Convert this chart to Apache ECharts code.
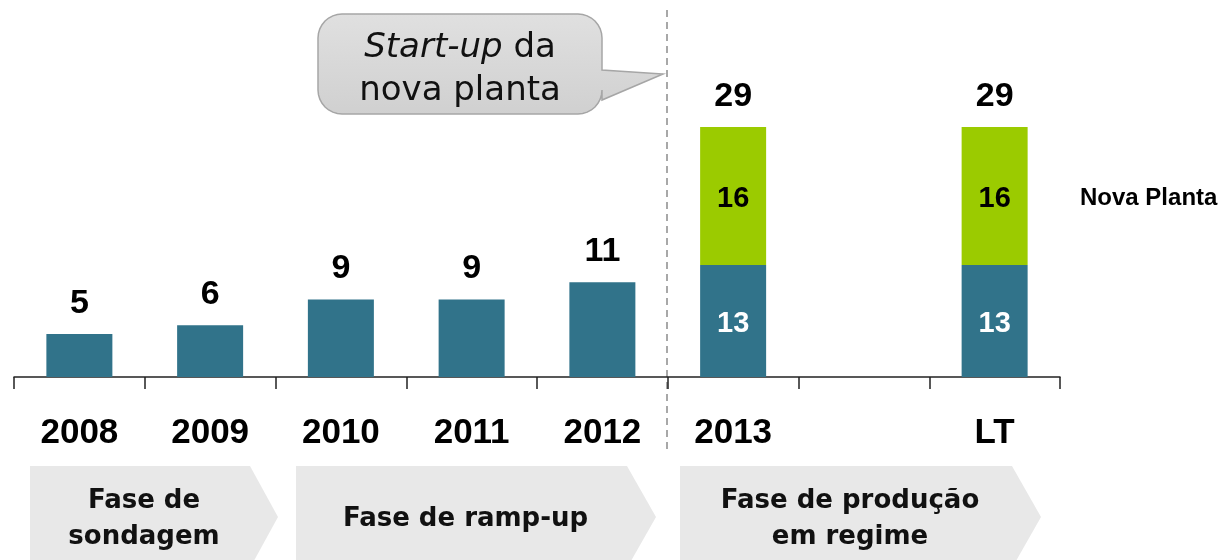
<!DOCTYPE html>
<html>
<head>
<meta charset="utf-8">
<script src="https://cdn.jsdelivr.net/npm/echarts@6/dist/echarts.min.js"></script>
<style>
  html, body { margin: 0; padding: 0; background: #fff; }
  #chart { width: 1220px; height: 560px; }
</style>
</head>
<body>
<div id="chart"></div>
<script>
// data
const categories = ["2008", "2009", "2010", "2011", "2012", "2013", "", "LT"];
const baseValues = [5, 6, 9, 9, 11, 13, null, 13];
const novaValues = [null, null, null, null, null, 16, null, 16];
const totals = [5, 6, 9, 9, 11, 29, null, 29];
const novaLabel = "Nova Planta";
const phases = [
  { text: "Fase de\nsondagem", x0: 30, x1: 250, tip: 278 },
  { text: "Fase de ramp-up", x0: 296, x1: 627, tip: 656 },
  { text: "Fase de produção\nem regime", x0: 680, x1: 1012, tip: 1041 }
];

const chart = echarts.init(document.getElementById("chart"));

function chevron(p) {
  const top = 466, bottom = 568, mid = (top + bottom) / 2;
  return {
    type: "group",
    children: [
      {
        type: "polygon",
        shape: {
          points: [[p.x0, top], [p.x1, top], [p.tip, mid], [p.x1, bottom], [p.x0, bottom]]
        },
        style: { fill: "#e8e8e8" }
      },
      {
        type: "text",
        x: (p.x0 + p.x1) / 2 + 4,
        y: 519,
        style: {
          text: p.text,
          font: "bold 26px 'DejaVu Sans'",
          fill: "#111",
          align: "center",
          verticalAlign: "middle",
          lineHeight: 36
        }
      }
    ]
  };
}

// rounded box with a tail on the right side, as a point list
function bubblePoints(l, t, r, b, rad, tail) {
  const pts = [];
  const arc = (cx, cy, a0, a1) => {
    for (let i = 0; i <= 8; i++) {
      const a = a0 + (a1 - a0) * i / 8;
      pts.push([cx + rad * Math.cos(a), cy + rad * Math.sin(a)]);
    }
  };
  arc(l + rad, t + rad, Math.PI, Math.PI * 1.5);
  arc(r - rad, t + rad, Math.PI * 1.5, Math.PI * 2);
  pts.push([r, tail.y0], [tail.x, tail.y], [r, tail.y1]);
  arc(r - rad, b - rad, 0, Math.PI * 0.5);
  arc(l + rad, b - rad, Math.PI * 0.5, Math.PI);
  return pts;
}

const option = {
  animation: false,
  grid: { left: 14, right: 160, top: 32, bottom: 183 },
  xAxis: {
    type: "category",
    data: categories,
    axisLine: { lineStyle: { color: "#222", width: 1.5 } },
    axisTick: { show: true, length: 12, lineStyle: { color: "#222", width: 1.5 } },
    axisLabel: {
      color: "#000",
      fontFamily: "Liberation Sans",
      fontWeight: "bold",
      fontSize: 35,
      margin: 39,
      interval: 0
    }
  },
  yAxis: {
    type: "value",
    min: 0,
    max: 40,
    show: false,
    splitLine: { show: false }
  },
  series: [
    {
      name: "base",
      type: "bar",
      stack: "total",
      data: baseValues,
      barWidth: 66,
      itemStyle: { color: "#31738a" },
      label: {
        show: true,
        position: "inside",
        offset: [0, 3],
        color: "#fff",
        fontFamily: "Liberation Sans",
        fontWeight: "bold",
        fontSize: 29,
        formatter: p => (novaValues[p.dataIndex] != null ? p.value : "")
      }
    },
    {
      name: novaLabel,
      type: "bar",
      stack: "total",
      data: novaValues,
      barWidth: 66,
      itemStyle: { color: "#9bcb00" },
      label: {
        show: true,
        position: "inside",
        offset: [0, 3],
        color: "#000",
        fontFamily: "Liberation Sans",
        fontWeight: "bold",
        fontSize: 29
      }
    },
    {
      name: "total",
      type: "scatter",
      data: totals,
      symbolSize: 1,
      itemStyle: { color: "rgba(0,0,0,0)", opacity: 1 },
      label: {
        show: true,
        position: "top",
        distance: 13,
        color: "#000",
        opacity: 1,
        fontFamily: "Liberation Sans",
        fontWeight: "bold",
        fontSize: 34
      },
      z: 5
    }
  ],
  graphic: [
    // phase divider
    {
      type: "line",
      shape: { x1: 667, y1: 10, x2: 667, y2: 452 },
      style: { stroke: "#8c8c8c", lineWidth: 1.5, lineDash: [7, 5] }
    },
    // callout bubble
    {
      type: "polygon",
      shape: {
        points: bubblePoints(318, 14, 602, 114, 24, { y0: 70, x: 663, y: 74, y1: 100 })
      },
      style: {
        fill: new echarts.graphic.LinearGradient(0, 0, 0, 1, [
          { offset: 0, color: "#e0e0e0" },
          { offset: 1, color: "#d0d0d0" }
        ]),
        stroke: "#a6a6a6",
        lineWidth: 1.5
      }
    },
    {
      type: "text",
      x: 460,
      y: 70,
      style: {
        text: "{i|Start-up}{n| da}\n{n|nova planta}",
        align: "center",
        verticalAlign: "middle",
        rich: {
          i: { font: "italic 34px 'DejaVu Sans'", fill: "#111", lineHeight: 43 },
          n: { font: "34px 'DejaVu Sans'", fill: "#111", lineHeight: 43 }
        }
      }
    },
    {
      type: "text",
      x: 1080,
      y: 198,
      style: {
        text: novaLabel,
        font: "bold 24px 'Liberation Sans'",
        fill: "#000",
        verticalAlign: "middle"
      }
    }
  ].concat(phases.map(chevron))
};

chart.setOption(option);
</script>
</body>
</html>
